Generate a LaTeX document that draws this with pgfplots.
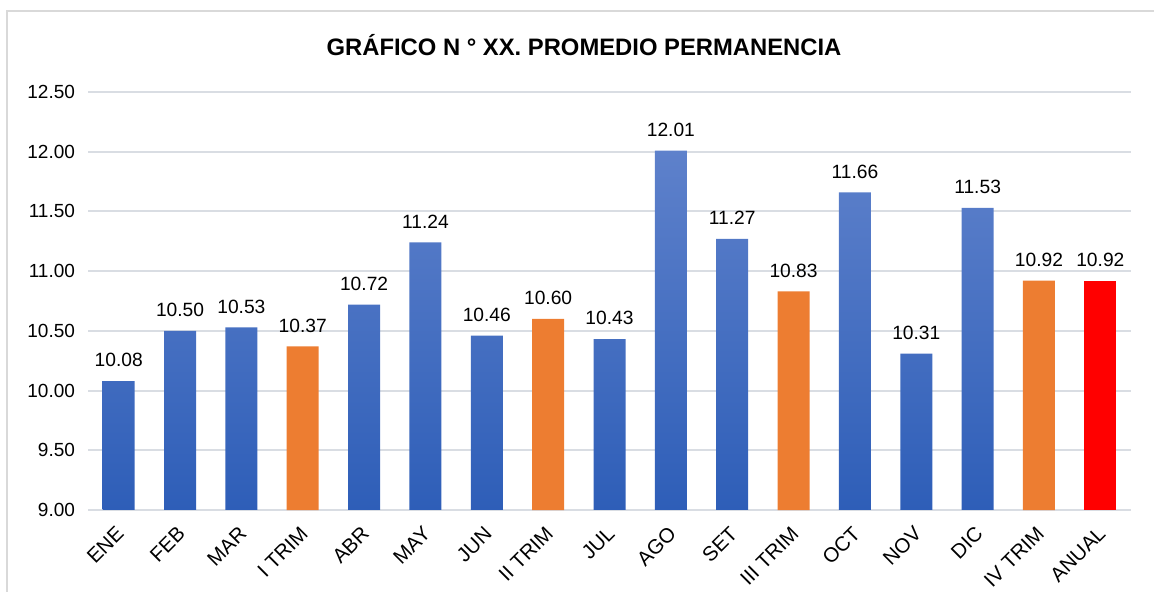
\documentclass[border=0pt]{standalone}
\usepackage{pgfplots}
\pgfplotsset{compat=1.18}
\usepackage{fontspec}
\setmainfont{Liberation Sans}
\definecolor{gridc}{HTML}{D9DDE3}
\definecolor{borderc}{HTML}{D9D9D9}
\definecolor{btop}{HTML}{5E81CB}
\definecolor{bbot}{HTML}{2E5EB8}
\definecolor{orng}{HTML}{ED7D31}
\definecolor{redc}{HTML}{FF0000}
\begin{document}
\begin{tikzpicture}
\useasboundingbox (0,0) rectangle (577bp,296bp);
\clip (0,0) rectangle (577bp,296bp);
\draw[borderc, line width=0.8bp] (3.5bp,-20bp) rectangle (600bp,290.5bp);
\node[font=\bfseries\fontsize{11.9bp}{14bp}\selectfont] at (292bp,273.5bp) {GRÁFICO N ° XX. PROMEDIO PERMANENCIA};
\begin{axis}[
  at={(44bp,41bp)}, anchor=south west,
  scale only axis, width=521.5bp, height=209bp,
  xmin=-0.5, xmax=16.5, ymin=9, ymax=12.5,
  ytick={9,9.5,10,10.5,11,11.5,12,12.5},
  yticklabel style={/pgf/number format/fixed, /pgf/number format/fixed zerofill, /pgf/number format/precision=2, /pgf/number format/assume math mode=true},
  yticklabel style={font=\fontsize{9.5bp}{11bp}\selectfont, xshift=-3bp},
  xtick={0,...,16},
  xticklabels={ENE,FEB,MAR,I TRIM,ABR,MAY,JUN,II TRIM,JUL,AGO,SET,III TRIM,OCT,NOV,DIC,IV TRIM,ANUAL},
  xticklabel style={font=\fontsize{10.2bp}{12bp}\selectfont, xshift=-1.8bp, yshift=-1.7bp, rotate=45, anchor=north east, inner sep=1bp},
  axis line style={draw=none},
  tick style={draw=none},
  ymajorgrids, grid style={gridc, line width=1bp},
  ybar, bar width=16bp, bar shift=0pt,
  nodes near coords,
  nodes near coords style={font=\fontsize{9.6bp}{11bp}\selectfont, /pgf/number format/fixed, /pgf/number format/fixed zerofill, /pgf/number format/precision=2, /pgf/number format/assume math mode=true},
  every node near coord/.append style={yshift=3.5bp},
  clip=false,
]
\addplot[draw=none, top color=btop, bottom color=bbot] coordinates {
(0,10.08) (1,10.50) (2,10.53) (4,10.72) (5,11.24) (6,10.46) (8,10.43) (9,12.01) (10,11.27) (12,11.66) (13,10.31) (14,11.53)};
\addplot[draw=none, fill=orng] coordinates {(3,10.37) (7,10.60) (11,10.83) (15,10.92)};
\addplot[draw=none, fill=redc] coordinates {(16,10.92)};
\end{axis}
\end{tikzpicture}
\end{document}
